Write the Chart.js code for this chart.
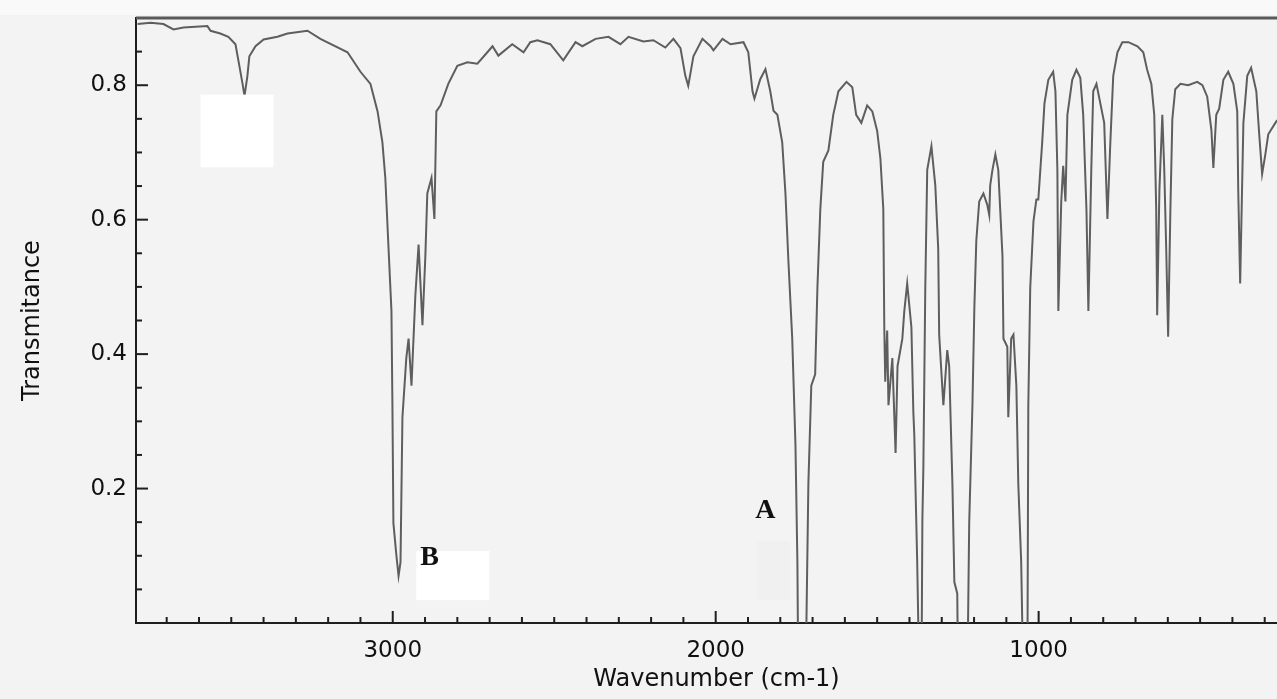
<!DOCTYPE html>
<html>
<head>
<meta charset="utf-8">
<title>IR spectrum</title>
<script src="https://cdn.jsdelivr.net/npm/chart.js@4.4.1/dist/chart.umd.min.js"></script>
<style>
html,body{margin:0;padding:0;background:#f3f3f3;overflow:hidden;}
#wrap{position:relative;width:1297px;height:699px;}
</style>
</head>
<body>
<div id="wrap"><canvas id="ir" width="1297" height="699"></canvas></div>
<script>
// spectrum (cm-1, transmittance); -0.1 = runs off the bottom
const wavenumbers = [
  3790,3750,3710,3679,3648,3574,3564,3534,3509,3487,3478,3465,3459,3450,3444,3425,3400,3357,3326,3264,
  3224,3140,3100,3069,3047,3032,3023,3013,3004,3001,2998,2989,2982,2976,2970,2958,2951,2942,2930,2920,
  2908,2899,2893,2880,2871,2865,2852,2828,2800,2769,2738,2707,2691,2673,2630,2595,2574,2552,2512,2472,
  2434,2413,2372,2332,2295,2270,2224,2193,2156,2131,2109,2094,2085,2069,2041,2016,2007,1979,1954,1914,
  1899,1886,1880,1862,1846,1831,1821,1809,1794,1784,1775,1763,1753,1747,1744,1722,1713,1704,1692,1685,
  1676,1667,1651,1636,1620,1595,1577,1565,1549,1531,1515,1500,1490,1481,1478,1475,1469,1465,1453,1443,
  1437,1422,1416,1407,1394,1388,1385,1376,1369,1363,1360,1357,1351,1345,1332,1320,1311,1308,1295,1283,
  1277,1267,1261,1252,1249,1221,1215,1205,1199,1193,1184,1171,1159,1153,1150,1143,1134,1125,1112,1109,
  1097,1094,1085,1078,1069,1063,1054,1047,1035,1032,1026,1016,1007,1001,989,982,970,955,948,942,
  939,930,924,917,911,896,883,871,862,852,846,837,831,821,809,797,787,778,769,756,
  741,722,694,676,664,651,642,636,633,626,617,611,605,599,592,586,577,561,537,509,
  493,478,465,459,450,441,428,413,397,385,382,376,366,354,342,326,317,308,298,289,
  267,261
];
const transmittance = [
  0.891,0.893,0.891,0.883,0.886,0.888,0.881,0.877,0.872,0.861,0.837,0.802,0.784,0.814,0.843,0.858,0.868,0.872,0.877,0.881,
  0.869,0.849,0.820,0.802,0.761,0.715,0.662,0.557,0.464,0.324,0.149,0.102,0.070,0.090,0.306,0.394,0.423,0.353,0.487,0.563,
  0.443,0.546,0.639,0.662,0.601,0.761,0.770,0.802,0.829,0.834,0.832,0.849,0.858,0.844,0.861,0.849,0.864,0.867,0.861,0.837,
  0.864,0.858,0.869,0.872,0.861,0.872,0.865,0.867,0.856,0.869,0.855,0.814,0.799,0.843,0.869,0.858,0.852,0.869,0.861,0.864,
  0.849,0.791,0.780,0.809,0.824,0.791,0.762,0.756,0.715,0.639,0.540,0.423,0.265,0.090,-0.1,-0.1,0.207,0.353,0.370,0.499,
  0.616,0.686,0.703,0.756,0.791,0.805,0.797,0.756,0.744,0.770,0.761,0.732,0.691,0.616,0.441,0.359,0.435,0.324,0.394,0.253,
  0.382,0.423,0.464,0.505,0.440,0.314,0.279,0.090,-0.1,-0.1,0.154,0.230,0.499,0.674,0.709,0.651,0.557,0.429,0.324,0.406,
  0.382,0.207,0.061,0.044,-0.1,-0.1,0.149,0.324,0.470,0.569,0.627,0.639,0.622,0.607,0.651,0.674,0.697,0.674,0.546,0.423,
  0.411,0.306,0.423,0.429,0.353,0.207,0.090,-0.1,-0.1,0.324,0.499,0.598,0.630,0.630,0.715,0.773,0.808,0.820,0.791,0.674,
  0.464,0.627,0.680,0.627,0.756,0.808,0.823,0.811,0.756,0.616,0.464,0.674,0.791,0.802,0.773,0.744,0.601,0.715,0.814,0.849,
  0.864,0.864,0.858,0.849,0.823,0.802,0.756,0.616,0.458,0.645,0.756,0.674,0.557,0.426,0.616,0.750,0.794,0.802,0.800,0.805,
  0.800,0.783,0.733,0.677,0.756,0.765,0.808,0.820,0.802,0.761,0.645,0.505,0.744,0.814,0.826,0.791,0.727,0.668,0.697,0.727,
  0.744,0.748
];

// axis ranges and labels
const xRange = [200, 3795];
const yRange = [0, 0.9];
const xMajorLabels = [3000, 2000, 1000];
const yMajorLabels = [0.2, 0.4, 0.6, 0.8];
const xMinorStep = 100;
const yMinorStep = 0.05;

// letters and the blank boxes pasted over the picture (cm-1 / transmittance)
const markLetters = ['A', 'B'];
const markWn = [1846, 2886];
const markT = [0.167, 0.097];
const boxFromWn = [3595, 2927, 1871];
const boxToWn = [3369, 2701, 1769];
const boxTopT = [0.786, 0.107, 0.122];
const boxBottomT = [0.678, 0.034, 0.034];
const boxColors = ['#ffffff', '#ffffff', '#f0f0f0'];

const points = wavenumbers.map((w, i) => ({ x: w, y: transmittance[i] }));

const ink = '#1e1e1e';

const background = {
  id: 'background',
  beforeDraw(chart) {
    const { ctx, width, height, chartArea } = chart;
    ctx.save();
    ctx.fillStyle = '#f3f3f3';
    ctx.fillRect(0, 0, width, height);
    ctx.fillStyle = '#f9f9f9';
    ctx.fillRect(0, 0, width, chartArea.top - 3);
    ctx.restore();
  }
};

// ticks point into the plot, plus the grey top rule and the pasted labels
const frame = {
  id: 'frame',
  afterDatasetsDraw(chart) {
    const { ctx, chartArea: a, scales: { x, y } } = chart;
    ctx.save();
    ctx.strokeStyle = ink;
    ctx.lineWidth = 2;
    x.ticks.forEach(t => {
      const px = x.getPixelForValue(t.value);
      const len = xMajorLabels.includes(t.value) ? 12 : 6;
      ctx.beginPath(); ctx.moveTo(px, a.bottom); ctx.lineTo(px, a.bottom - len); ctx.stroke();
    });
    y.ticks.forEach(t => {
      const py = y.getPixelForValue(t.value);
      const major = yMajorLabels.some(v => Math.abs(v - t.value) < 1e-6);
      ctx.beginPath(); ctx.moveTo(a.left, py); ctx.lineTo(a.left + (major ? 12 : 6), py); ctx.stroke();
    });
    ctx.strokeStyle = '#5a5a5a';
    ctx.lineWidth = 3;
    ctx.beginPath(); ctx.moveTo(a.left, a.top); ctx.lineTo(a.right, a.top); ctx.stroke();

    boxFromWn.forEach((w, i) => {
      const x1 = x.getPixelForValue(w), x2 = x.getPixelForValue(boxToWn[i]);
      const y1 = y.getPixelForValue(boxTopT[i]), y2 = y.getPixelForValue(boxBottomT[i]);
      ctx.fillStyle = boxColors[i];
      ctx.fillRect(x1, y1, x2 - x1, y2 - y1);
    });
    ctx.fillStyle = '#111';
    ctx.font = 'bold 28px "Liberation Serif"';
    ctx.textAlign = 'center';
    ctx.textBaseline = 'middle';
    markLetters.forEach((s, i) => {
      ctx.fillText(s, x.getPixelForValue(markWn[i]), y.getPixelForValue(markT[i]));
    });
    ctx.restore();
  }
};

function stepTicks(lo, hi, step) {
  const out = [];
  for (let k = Math.ceil(lo / step + 1e-9); k * step < hi - 1e-9; k++) out.push({ value: +(k * step).toFixed(4) });
  return out;
}

new Chart(document.getElementById('ir'), {
  type: 'line',
  data: {
    datasets: [{
      data: points,
      borderColor: '#5e5e5e',
      borderWidth: 2,
      pointRadius: 0,
      tension: 0,
      fill: false,
      clip: 0
    }]
  },
  options: {
    responsive: false,
    animation: false,
    devicePixelRatio: 1,
    layout: { padding: { top: 18, right: 0, left: 0, bottom: 0 } },
    plugins: { legend: { display: false }, tooltip: { enabled: false } },
    scales: {
      x: {
        type: 'linear',
        reverse: true,
        min: xRange[0],
        max: xRange[1],
        afterBuildTicks: s => { s.ticks = stepTicks(xRange[0], xRange[1], xMinorStep); },
        afterFit: s => { s.height = 76; },
        grid: { display: false, drawTicks: false },
        border: { display: true, color: ink, width: 2 },
        ticks: {
          autoSkip: false, maxRotation: 0, padding: 14, color: '#111',
          font: { family: 'DejaVu Sans', size: 23 },
          callback: v => xMajorLabels.includes(v) ? String(v) : ''
        },
        title: {
          display: true, text: 'Wavenumber (cm-1)', color: '#111',
          font: { family: 'DejaVu Sans', size: 24 }, padding: { top: 0, bottom: 5 }
        }
      },
      y: {
        min: yRange[0],
        max: yRange[1],
        afterBuildTicks: s => { s.ticks = stepTicks(yRange[0], yRange[1], yMinorStep); },
        afterFit: s => { s.width = 136; },
        grid: { display: false, drawTicks: false },
        border: { display: true, color: ink, width: 2 },
        ticks: {
          autoSkip: false, padding: 9, color: '#111',
          font: { family: 'DejaVu Sans', size: 23, lineHeight: 0.7 },
          callback: v => yMajorLabels.some(m => Math.abs(m - v) < 1e-6) ? v.toFixed(1) : ''
        },
        title: {
          display: true, text: 'Transmitance', color: '#111',
          font: { family: 'DejaVu Sans', size: 24 }, padding: { top: 18, bottom: 0 }
        }
      }
    }
  },
  plugins: [background, frame]
});
</script>
</body>
</html>
